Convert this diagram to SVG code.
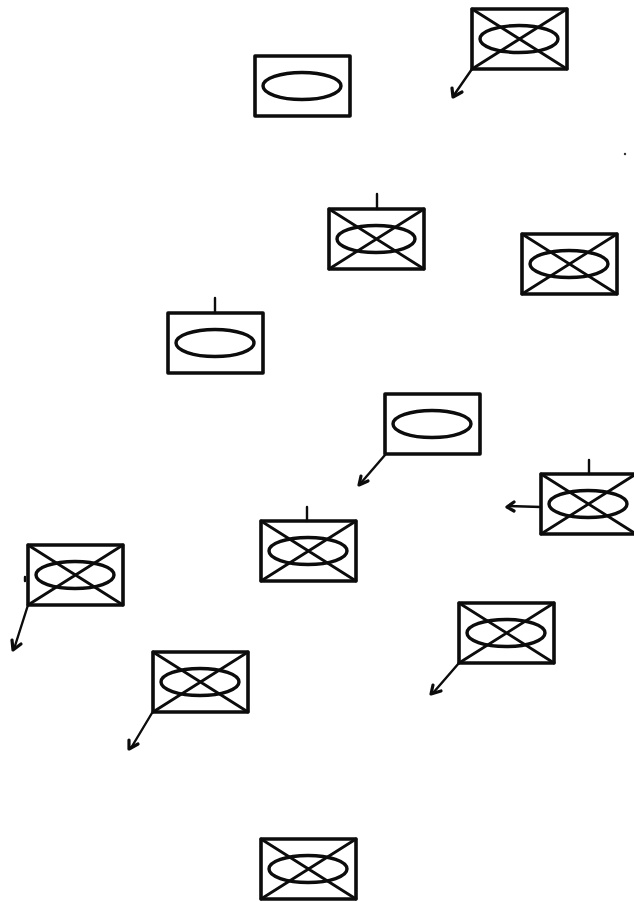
<svg xmlns="http://www.w3.org/2000/svg" xmlns:xlink="http://www.w3.org/1999/xlink" width="634" height="902" viewBox="0 0 634 902">
<style>
.s{fill:none;stroke:#0c0c0c;stroke-linecap:round;stroke-linejoin:round}
.b{stroke-width:3.6}
.e{stroke-width:3.4}
.x{stroke-width:2.8}
.c{fill:none;stroke:#0c0c0c;stroke-width:2.4;stroke-linecap:round;stroke-linejoin:round}
.h{fill:none;stroke:#0c0c0c;stroke-width:3.2;stroke-linecap:round;stroke-linejoin:round}
</style>
<defs>
<g id="plain"><rect class="s b" x="0" y="0" width="95" height="60"/><ellipse class="s e" cx="47" cy="30" rx="39" ry="13.500"/></g>
<g id="crossed"><rect class="s b" x="0" y="0" width="95" height="60"/><ellipse class="s e" cx="47" cy="30" rx="39" ry="13.500"/><path class="s x" d="M0 0L95 60M95 0L0 60"/></g>
</defs>
<rect width="634" height="902" fill="#fff"/>
<g id="connectors">
<path class="c" d="M472 69L454 95"/><path class="h" d="M452 88L453 97L462 92"/>
<path class="c" d="M377 194V209"/>
<path class="c" d="M215 298V313"/>
<path class="c" d="M385 455L360 484"/><path class="h" d="M361 476L359 485L368 481"/>
<path class="c" d="M589 460V474"/>
<path class="c" d="M541 507L508 506"/><path class="h" d="M514 502L507 507L514 511"/>
<path class="c" d="M307 507V521"/>
<path class="c" d="M28 605L14 649"/><path class="h" d="M12 640L13 650L21 644"/>
<path class="c" d="M25 577L25 581"/>
<path class="c" d="M459 663L433 693"/><path class="h" d="M433 685L431 694L441 691"/>
<path class="c" d="M152 713L131 748"/><path class="h" d="M129 740L129 749L138 744"/>
</g>
<g id="node1"><use xlink:href="#crossed" x="472" y="9"/></g>
<g id="node2"><use xlink:href="#plain" x="255" y="56"/></g>
<g id="node3"><use xlink:href="#crossed" x="329" y="209"/></g>
<g id="node4"><use xlink:href="#crossed" x="522" y="234"/></g>
<g id="node5"><use xlink:href="#plain" x="168" y="313"/></g>
<g id="node6"><use xlink:href="#plain" x="385" y="394"/></g>
<g id="node7"><use xlink:href="#crossed" x="541" y="474"/></g>
<g id="node8"><use xlink:href="#crossed" x="261" y="521"/></g>
<g id="node9"><use xlink:href="#crossed" x="28" y="545"/></g>
<g id="node10"><use xlink:href="#crossed" x="459" y="603"/></g>
<g id="node11"><use xlink:href="#crossed" x="153" y="652"/></g>
<g id="node12"><use xlink:href="#crossed" x="261" y="839"/></g>
<circle id="speck" cx="625" cy="154" r="1.200" fill="#333"/>
</svg>
